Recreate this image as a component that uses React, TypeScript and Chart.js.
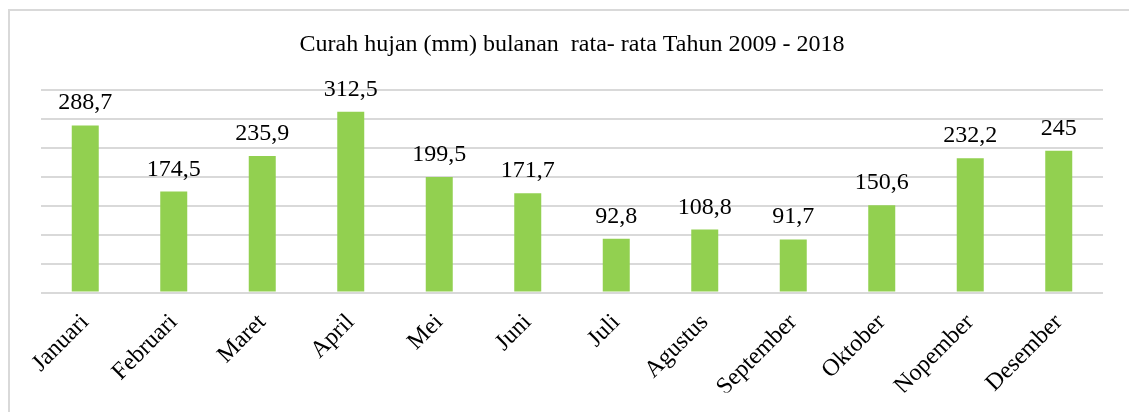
import React, { useEffect, useRef } from "react";
import { Chart, registerables } from "chart.js";

Chart.register(...registerables);

const months = [
  "Januari",
  "Februari",
  "Maret",
  "April",
  "Mei",
  "Juni",
  "Juli",
  "Agustus",
  "September",
  "Oktober",
  "Nopember",
  "Desember",
];
const rainfall = [288.7, 174.5, 235.9, 312.5, 199.5, 171.7, 92.8, 108.8, 91.7, 150.6, 232.2, 245];
const yMin = 0;
const yMax = 350;
const yStep = 50;
const titleText = "Curah hujan (mm) bulanan  rata- rata Tahun 2009 - 2018";

const FONT = "'Liberation Serif', 'Times New Roman', serif";

const valueLabels = {
  id: "valueLabels",
  afterDatasetsDraw(chart: any) {
    const ctx = chart.ctx;
    const meta = chart.getDatasetMeta(0);
    const data = chart.data.datasets[0].data as number[];
    ctx.save();
    ctx.font = `24px ${FONT}`;
    ctx.fillStyle = "#000000";
    ctx.textAlign = "center";
    ctx.textBaseline = "alphabetic";
    meta.data.forEach((el: any, i: number) => {
      const label = String(data[i]).replace(".", ",");
      ctx.fillText(label, el.x, el.y - 16);
    });
    ctx.restore();
  },
};

export default function App() {
  const canvasRef = useRef<HTMLCanvasElement | null>(null);

  useEffect(() => {
    if (!canvasRef.current) return;
    const chart = new Chart(canvasRef.current, {
      type: "bar",
      data: {
        labels: months,
        datasets: [
          {
            data: rainfall,
            backgroundColor: "#92D050",
            borderWidth: 0,
            categoryPercentage: 0.305,
            barPercentage: 1,
          },
        ],
      },
      options: {
        responsive: false,
        animation: false,
        devicePixelRatio: 1,
        layout: { padding: { left: 41, right: 26, top: 0, bottom: 19.5 } },
        plugins: {
          legend: { display: false },
          tooltip: { enabled: false },
          title: {
            display: true,
            text: titleText,
            color: "#000000",
            font: { family: FONT, size: 24, weight: "normal", lineHeight: 1.2 },
            padding: { top: 30.6, bottom: 30.6 },
          },
        },
        scales: {
          x: {
            grid: { display: false, drawTicks: false },
            border: { display: false },
            ticks: {
              color: "#000000",
              font: { family: FONT, size: 24 },
              maxRotation: 45,
              minRotation: 45,
              padding: 16,
              autoSkip: false,
            },
            afterFit(scale: any) {
              scale.height = 100;
            },
          },
          y: {
            min: yMin,
            max: yMax,
            ticks: { display: false, stepSize: yStep },
            grid: { color: "#d9d9d9", lineWidth: 2, drawTicks: false },
            border: { display: false },
          },
        },
      },
      plugins: [valueLabels],
    });
    return () => chart.destroy();
  }, []);

  return (
    <div
      style={{
        position: "fixed",
        left: 0,
        top: 0,
        width: 1129,
        height: 412,
        overflow: "hidden",
        background: "#ffffff",
      }}
    >
      <div
        style={{
          position: "absolute",
          left: 8,
          top: 9,
          width: 1300,
          height: 600,
          border: "2px solid #d9d9d9",
          boxSizing: "border-box",
        }}
      />
      <canvas
        ref={canvasRef}
        width={1129}
        height={412}
        style={{ position: "absolute", left: 0, top: 0, width: 1129, height: 412 }}
      />
    </div>
  );
}
